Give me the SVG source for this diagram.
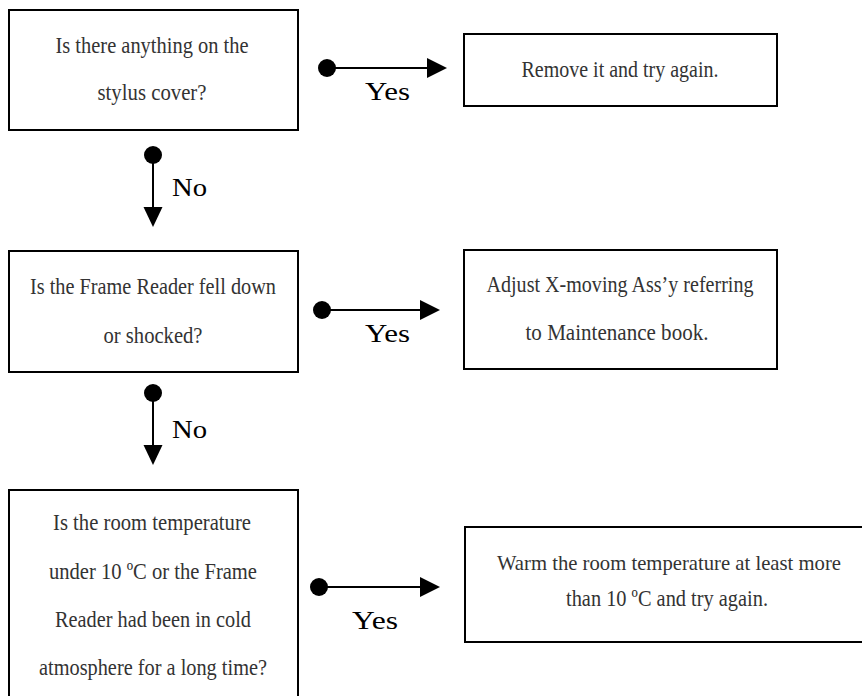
<svg xmlns="http://www.w3.org/2000/svg" width="862" height="696" viewBox="0 0 862 696">
<style>
.box{fill:#fff;stroke:#000;stroke-width:2}
.t{font-family:"Liberation Serif",serif;font-size:23px;fill:#333;text-anchor:middle}
.lbl{font-family:"Liberation Serif",serif;font-size:26px;fill:#000}
.ln{stroke:#000;stroke-width:2;fill:none}
.dot{fill:#000}
.head{fill:#000}
</style>
<rect width="862" height="696" fill="#fff"/>
<g id="q1">
<rect class="box" x="9" y="10" width="289" height="120"/>
<text class="t" x="152" y="53" textLength="193" lengthAdjust="spacingAndGlyphs">Is there anything on the</text>
<text class="t" x="152" y="100" textLength="109" lengthAdjust="spacingAndGlyphs">stylus cover?</text>
</g>
<g id="a1">
<rect class="box" x="464" y="34" width="313" height="72"/>
<text class="t" x="620" y="77" textLength="197" lengthAdjust="spacingAndGlyphs">Remove it and try again.</text>
</g>
<g id="q2">
<rect class="box" x="9" y="251" width="289" height="121"/>
<text class="t" x="153" y="294" textLength="246" lengthAdjust="spacingAndGlyphs">Is the Frame Reader fell down</text>
<text class="t" x="153" y="343" textLength="99" lengthAdjust="spacingAndGlyphs">or shocked?</text>
</g>
<g id="a2">
<rect class="box" x="464" y="250" width="313" height="119"/>
<text class="t" x="620" y="292" textLength="267" lengthAdjust="spacingAndGlyphs">Adjust X-moving Ass’y referring</text>
<text class="t" x="617" y="340" textLength="183" lengthAdjust="spacingAndGlyphs">to Maintenance book.</text>
</g>
<g id="q3">
<rect class="box" x="9" y="490" width="289" height="220"/>
<text class="t" x="152" y="530" textLength="198" lengthAdjust="spacingAndGlyphs">Is the room temperature</text>
<text class="t" x="153" y="579" textLength="208" lengthAdjust="spacingAndGlyphs">under 10 ºC or the Frame</text>
<text class="t" x="153" y="627" textLength="196" lengthAdjust="spacingAndGlyphs">Reader had been in cold</text>
<text class="t" x="153" y="675" textLength="228" lengthAdjust="spacingAndGlyphs">atmosphere for a long time?</text>
</g>
<g id="a3">
<rect class="box" x="465" y="527" width="410" height="115"/>
<text class="t" x="669" y="570" font-size="21" textLength="344" lengthAdjust="spacingAndGlyphs" style="font-size:21.5px">Warm the room temperature at least more</text>
<text class="t" x="667" y="606" textLength="202" lengthAdjust="spacingAndGlyphs">than 10 ºC and try again.</text>
</g>
<g id="connectors">
<circle class="dot" cx="327" cy="68" r="9"/>
<line class="ln" x1="327" y1="68" x2="429" y2="68"/>
<polygon class="head" points="427,58 447,68 427,78"/>
<text class="lbl" x="365" y="100" textLength="45" lengthAdjust="spacingAndGlyphs">Yes</text>

<circle class="dot" cx="153" cy="155" r="9"/>
<line class="ln" x1="153" y1="155" x2="153" y2="209"/>
<polygon class="head" points="143.5,207 162.5,207 153,227"/>
<text class="lbl" x="172" y="196" textLength="35" lengthAdjust="spacingAndGlyphs">No</text>

<circle class="dot" cx="322" cy="310" r="9"/>
<line class="ln" x1="322" y1="310" x2="422" y2="310"/>
<polygon class="head" points="420,300 440,310 420,320"/>
<text class="lbl" x="365" y="342" textLength="45" lengthAdjust="spacingAndGlyphs">Yes</text>

<circle class="dot" cx="153" cy="393" r="9"/>
<line class="ln" x1="153" y1="393" x2="153" y2="447"/>
<polygon class="head" points="143.5,445 162.5,445 153,465"/>
<text class="lbl" x="172" y="438" textLength="35" lengthAdjust="spacingAndGlyphs">No</text>

<circle class="dot" cx="319" cy="587" r="9"/>
<line class="ln" x1="319" y1="587" x2="422" y2="587"/>
<polygon class="head" points="420,577 440,587 420,597"/>
<text class="lbl" x="352" y="629" textLength="46" lengthAdjust="spacingAndGlyphs">Yes</text>
</g>
</svg>
